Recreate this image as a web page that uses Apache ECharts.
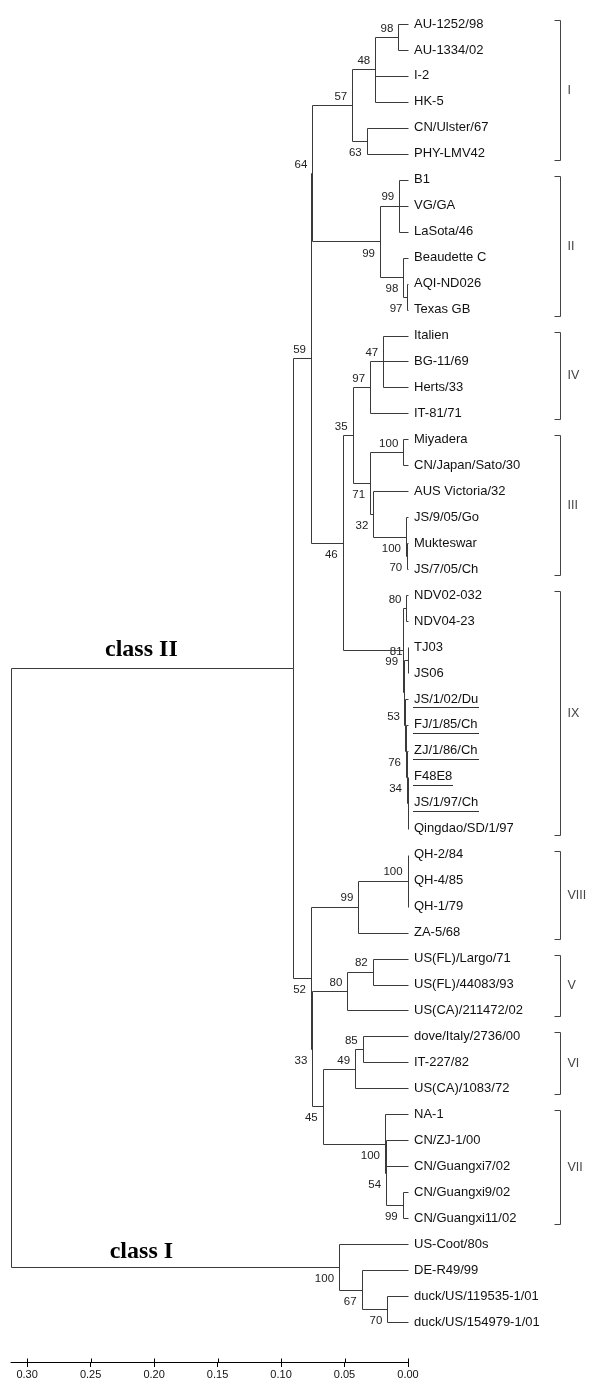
<!DOCTYPE html>
<html>
<head>
<meta charset="utf-8">
<script src="https://cdn.jsdelivr.net/npm/echarts@6/dist/echarts.min.js"></script>
<style>
  html, body { margin: 0; padding: 0; background: #fff; }
  #main { width: 600px; height: 1384px; }
</style>
</head>
<body>
<div id="main"></div>
<script>
// tips, top to bottom
var leaves = [
  'AU-1252/98', 'AU-1334/02', 'I-2', 'HK-5', 'CN/Ulster/67', 'PHY-LMV42',
  'B1', 'VG/GA', 'LaSota/46', 'Beaudette C', 'AQI-ND026', 'Texas GB',
  'Italien', 'BG-11/69', 'Herts/33', 'IT-81/71',
  'Miyadera', 'CN/Japan/Sato/30', 'AUS Victoria/32', 'JS/9/05/Go', 'Mukteswar', 'JS/7/05/Ch',
  'NDV02-032', 'NDV04-23', 'TJ03', 'JS06', 'JS/1/02/Du', 'FJ/1/85/Ch', 'ZJ/1/86/Ch', 'F48E8',
  'JS/1/97/Ch', 'Qingdao/SD/1/97',
  'QH-2/84', 'QH-4/85', 'QH-1/79', 'ZA-5/68',
  'US(FL)/Largo/71', 'US(FL)/44083/93', 'US(CA)/211472/02',
  'dove/Italy/2736/00', 'IT-227/82', 'US(CA)/1083/72',
  'NA-1', 'CN/ZJ-1/00', 'CN/Guangxi7/02', 'CN/Guangxi9/02', 'CN/Guangxi11/02',
  'US-Coot/80s', 'DE-R49/99', 'duck/US/119535-1/01', 'duck/US/154979-1/01'
];
var underlined = ['JS/1/02/Du', 'FJ/1/85/Ch', 'ZJ/1/86/Ch', 'F48E8', 'JS/1/97/Ch'];

var nodeIds = [
  'a1', 'a2', 'a3', 'a4', 'b1', 'b2', 'b3', 'b4', 'c1',
  'd1', 'd2', 'e1', 'e2', 'e3', 'e4', 'e5', 'd3',
  'f1', 'f2', 'f3', 'f4', 'f5', 'f6', 'f7', 'f8', 'g1', 'g2',
  'h1', 'h2', 'i1', 'i2', 'j1', 'j2', 'k1', 'k2', 'k3', 'l1', 'l2', 'l3', 'm1',
  'n1', 'n2', 'n3', 'root'
];
var nodeHeights = [
  0.0076, 0.0258, 0.0325, 0.0439, 0.0069, 0.0004, 0.0037, 0.0221, 0.0754,
  0.0195, 0.0299, 0.0037, 0.0006, 0.0016, 0.0273, 0.0299, 0.0436,
  0.0012, 0.0003, 0.0001, 0.0008, 0.0016, 0.0024, 0.0033, 0.0039, 0.0514, 0.0764,
  0.0003, 0.0391, 0.0278, 0.0478, 0.0357, 0.0417, 0.0042, 0.0173, 0.0181, 0.0672, 0.0754, 0.0764, 0.0908,
  0.0163, 0.0365, 0.0543, 0.3127
];
var nodeChildren = [
  ['AU-1252/98', 'AU-1334/02'], ['a1', 'I-2', 'HK-5'], ['CN/Ulster/67', 'PHY-LMV42'], ['a2', 'a3'],
  ['B1', 'VG/GA', 'LaSota/46'], ['AQI-ND026', 'Texas GB'], ['Beaudette C', 'b2'], ['b1', 'b3'], ['a4', 'b4'],
  ['Italien', 'BG-11/69', 'Herts/33'], ['d1', 'IT-81/71'], ['Miyadera', 'CN/Japan/Sato/30'],
  ['Mukteswar', 'JS/7/05/Ch'], ['JS/9/05/Go', 'e2'], ['AUS Victoria/32', 'e3'], ['e1', 'e4'], ['d2', 'e5'],
  ['NDV02-032', 'NDV04-23'], ['TJ03', 'JS06'], ['F48E8', 'JS/1/97/Ch', 'Qingdao/SD/1/97'],
  ['ZJ/1/86/Ch', 'f3'], ['FJ/1/85/Ch', 'f4'], ['JS/1/02/Du', 'f5'], ['f2', 'f6'], ['f1', 'f7'],
  ['d3', 'f8'], ['c1', 'g1'],
  ['QH-2/84', 'QH-4/85', 'QH-1/79'], ['h1', 'ZA-5/68'], ['US(FL)/Largo/71', 'US(FL)/44083/93'],
  ['i1', 'US(CA)/211472/02'], ['dove/Italy/2736/00', 'IT-227/82'], ['j1', 'US(CA)/1083/72'],
  ['CN/Guangxi9/02', 'CN/Guangxi11/02'], ['CN/ZJ-1/00', 'CN/Guangxi7/02', 'k1'], ['NA-1', 'k2'],
  ['j2', 'k3'], ['i2', 'l1'], ['h2', 'l2'], ['g2', 'l3'],
  ['duck/US/119535-1/01', 'duck/US/154979-1/01'], ['DE-R49/99', 'n1'], ['US-Coot/80s', 'n2'], ['m1', 'n3']
];
var nodeSupport = [
  98, 48, 63, 57, 99, 97, 98, 99, 64,
  47, 97, 100, 70, 100, 32, 71, 35,
  80, 81, null, 34, 76, 53, null, 99, 46, 59,
  100, 99, 82, 80, 85, 49, 99, 54, 100, 45, 33, 52, null,
  70, 67, 100, null
];
// bootstrap labels that sit under their branch
var labelBelow = ['a3', 'b2', 'b3', 'b4', 'e2', 'e3', 'e4', 'e5', 'f4', 'f5', 'f8', 'g1',
  'k1', 'k2', 'k3', 'l1', 'l2', 'l3', 'n1', 'n2', 'n3'];

// genotype brackets
var cladeNames = ['I', 'II', 'IV', 'III', 'IX', 'VIII', 'V', 'VI', 'VII'];
var cladeFirst = ['AU-1252/98', 'B1', 'Italien', 'Miyadera', 'NDV02-032', 'QH-2/84', 'US(FL)/Largo/71', 'dove/Italy/2736/00', 'NA-1'];
var cladeLast = ['PHY-LMV42', 'Texas GB', 'IT-81/71', 'JS/7/05/Ch', 'Qingdao/SD/1/97', 'ZA-5/68', 'US(CA)/211472/02', 'US(CA)/1083/72', 'CN/Guangxi11/02'];

var classNames = ['class II', 'class I'];
var classNodes = ['m1', 'n3'];
var classLabelAt = 0.21;

var scaleTicks = [0, 0.05, 0.10, 0.15, 0.20, 0.25, 0.30];

var LINE = '#3a3a3a';
var TIP_FONT = '13px "Liberation Sans", Arial, sans-serif';
var AXIS_OFFSET = 40;

var measureCtx = document.createElement('canvas').getContext('2d');
measureCtx.font = TIP_FONT;

function px(v) { return Math.round(v) + 0.5; }

function renderTree(params, api) {
  var els = [];
  var height = {}, yIdx = {}, kids = {};
  leaves.forEach(function (n, i) { height[n] = 0; yIdx[n] = i; });
  nodeIds.forEach(function (id, i) { height[id] = nodeHeights[i]; kids[id] = nodeChildren[i]; });
  function place(id) {
    if (yIdx[id] !== undefined) return yIdx[id];
    var c = kids[id];
    var ys = c.map(place);
    yIdx[id] = (ys[0] + ys[ys.length - 1]) / 2;
    return yIdx[id];
  }
  place('root');

  function line(x1, y1, x2, y2, color) {
    els.push({ type: 'line', shape: { x1: x1, y1: y1, x2: x2, y2: y2 },
      style: { stroke: color || LINE, lineWidth: 1 } });
  }

  nodeIds.forEach(function (id, i) {
    var p = api.coord([height[id], yIdx[id]]);
    var c = kids[id];
    var top = api.coord([height[id], yIdx[c[0]]]);
    var bot = api.coord([height[id], yIdx[c[c.length - 1]]]);
    line(px(p[0]), px(top[1]), px(p[0]), px(bot[1]));
    c.forEach(function (ch) {
      var q = api.coord([height[ch], yIdx[ch]]);
      line(px(p[0]), px(q[1]), px(q[0]), px(q[1]));
    });
    if (nodeSupport[i] != null) {
      var below = labelBelow.indexOf(id) >= 0;
      els.push({ type: 'text', x: p[0] - 5, y: p[1] + (below ? 12 : -8.5),
        style: { text: String(nodeSupport[i]), fill: '#222', font: '11.5px "Liberation Sans", Arial, sans-serif',
          align: 'right', verticalAlign: 'middle' } });
    }
  });

  leaves.forEach(function (n, i) {
    var p = api.coord([0, i]);
    els.push({ type: 'text', x: p[0] + 6, y: p[1],
      style: { text: n, fill: '#111', font: TIP_FONT, align: 'left', verticalAlign: 'middle' } });
    if (underlined.indexOf(n) >= 0) {
      var w = measureCtx.measureText(n).width;
      line(Math.round(p[0] + 5), px(p[1] + 8), Math.round(p[0] + 7 + w), px(p[1] + 8), '#333');
    }
  });

  cladeNames.forEach(function (name, i) {
    var a = api.coord([0, yIdx[cladeFirst[i]]]);
    var b = api.coord([0, yIdx[cladeLast[i]]]);
    var bx = px(a[0] + 152), y1 = px(a[1] - 4), y2 = px(b[1] + 6);
    line(bx, y1, bx, y2, '#444');
    line(bx - 6, y1, bx, y1, '#444');
    line(bx - 6, y2, bx, y2, '#444');
    els.push({ type: 'text', x: bx + 7, y: (y1 + y2) / 2,
      style: { text: name, fill: '#444', font: '12.5px "Liberation Sans", Arial, sans-serif',
        align: 'left', verticalAlign: 'middle' } });
  });

  classNames.forEach(function (name, i) {
    var p = api.coord([classLabelAt, yIdx[classNodes[i]]]);
    els.push({ type: 'text', x: p[0], y: p[1] - (i === 0 ? 6 : 3),
      style: { text: name, fill: '#000', font: 'bold 24px "Liberation Serif", "Times New Roman", serif',
        align: 'center', verticalAlign: 'bottom' } });
  });

  // upper half of the scale-bar ticks (the axis draws the lower half)
  scaleTicks.forEach(function (t) {
    var p = api.coord([t, leaves.length - 1]);
    var ay = Math.round(p[1]) + AXIS_OFFSET + 0.5;
    line(px(p[0]), ay - 4, px(p[0]), ay, '#000');
  });

  return { type: 'group', children: els };
}

var chart = echarts.init(document.getElementById('main'), null, { renderer: 'canvas' });
var option = {
  animation: false,
  backgroundColor: '#fff',
  grid: { left: 11, right: 192, top: 24, bottom: 62 },
  xAxis: {
    type: 'value', inverse: true, min: 0, max: 0.3127, interval: 0.05,
    position: 'bottom', offset: AXIS_OFFSET,
    axisLine: { onZero: false, lineStyle: { color: '#000', width: 1 } },
    axisTick: { length: 5, customValues: scaleTicks, lineStyle: { color: '#000' } },
    axisLabel: { customValues: scaleTicks, margin: 7, fontSize: 11, color: '#111',
      fontFamily: '"Liberation Sans", Arial, sans-serif',
      formatter: function (v) { return v.toFixed(2); } },
    splitLine: { show: false }
  },
  yAxis: { type: 'value', inverse: true, min: 0, max: 50, show: false },
  series: [{
    type: 'custom',
    coordinateSystem: 'cartesian2d',
    silent: true,
    clip: false,
    data: [[0, 0]],
    renderItem: renderTree
  }]
};
chart.setOption(option);
</script>
</body>
</html>
